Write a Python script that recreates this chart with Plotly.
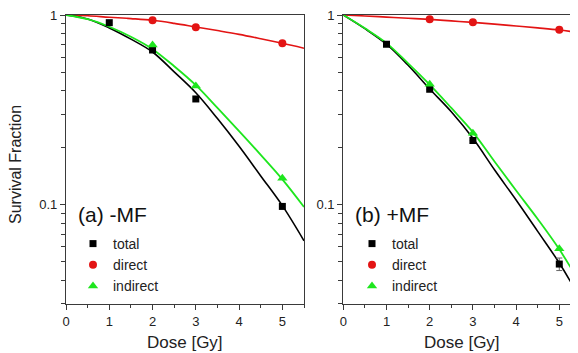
import plotly.graph_objects as go

# ---------------- data ----------------
dose_pts_total = [1, 2, 3, 5]
dose_pts = [2, 3, 5]

a_total = [0.911, 0.654, 0.361, 0.098]
a_direct = [0.938, 0.861, 0.710]
a_indirect = [0.695, 0.423, 0.138]

b_total = [0.701, 0.406, 0.218, 0.0487]
b_total_err = [0, 0, 0, 0.0037]
b_direct = [0.949, 0.915, 0.837]
b_indirect = [0.432, 0.238, 0.0587]

dose_fit = [0, 0.5, 1, 1.5, 2, 2.5, 3, 3.5, 4, 4.5, 5, 5.5]
a_total_fit = [1, 0.9528, 0.8551, 0.7464, 0.6383, 0.5012, 0.3890, 0.2844, 0.2032, 0.1419, 0.0989, 0.0646]
a_indirect_fit = [1, 0.9506, 0.8670, 0.7674, 0.6607, 0.5370, 0.4266, 0.3236, 0.2443, 0.1832, 0.1361, 0.0973]
a_direct_fit = [1, 0.9908, 0.9727, 0.9572, 0.9376, 0.9036, 0.8650, 0.8279, 0.7907, 0.7499, 0.7096, 0.6683]
b_total_fit = [1, 0.8472, 0.7015, 0.5433, 0.4074, 0.3090, 0.2239, 0.1528, 0.1059, 0.0724, 0.0493, 0.0316]
b_indirect_fit = [1, 0.8511, 0.7112, 0.5559, 0.4295, 0.3236, 0.2415, 0.1690, 0.1189, 0.0841, 0.0582, 0.0380]
b_direct_fit = [1, 0.9886, 0.9750, 0.9616, 0.9484, 0.9311, 0.9141, 0.8954, 0.8750, 0.8551, 0.8337, 0.8054]

x_ticks = [0, 1, 2, 3, 4, 5]
y_ticks = [0.1, 1]
y_tick_text = ["0.1", "1"]
y_minor = [0.03, 0.04, 0.05, 0.06, 0.07, 0.08, 0.09, 0.2, 0.3, 0.4, 0.5, 0.6, 0.7, 0.8, 0.9]
panel_labels = ["(a) -MF", "(b) +MF"]

# ---------------- style ----------------
BLACK = "#000000"
RED = "#e31414"
GREEN = "#1ee61e"
AXC = "#3a3a3a"
FONT = "Liberation Sans, Arial, sans-serif"

OFF = 8  # page body margin in the browser
SW, SH = 578, 353  # screen size
W, H = SW - OFF, SH - OFF
ML, MR, MT, MB = 66 - OFF, 0, 15 - OFF, SH - 304
PW, PH = W - ML - MR, H - MT - MB


def px_x(p):  # screen px -> paper fraction
    return (p - OFF - ML) / PW


def px_y(p):
    return (SH - MB - p) / PH


fig = go.Figure()

panels = [
    ("x", "y", "legend", a_total_fit, a_direct_fit, a_indirect_fit, a_total, None, a_direct, a_indirect),
    ("x2", "y2", "legend2", b_total_fit, b_direct_fit, b_indirect_fit, b_total, b_total_err, b_direct, b_indirect),
]

for xa, ya, lg, tf, df, inf, tp, terr, dp, ip in panels:
    fig.add_trace(go.Scatter(x=dose_fit, y=df, mode="lines", line=dict(color=RED, width=1.6, shape="spline"),
                             xaxis=xa, yaxis=ya, showlegend=False, hoverinfo="skip"))
    fig.add_trace(go.Scatter(x=dose_fit, y=tf, mode="lines", line=dict(color=BLACK, width=1.6, shape="spline"),
                             xaxis=xa, yaxis=ya, showlegend=False, hoverinfo="skip"))
    fig.add_trace(go.Scatter(x=dose_fit, y=inf, mode="lines", line=dict(color=GREEN, width=1.8, shape="spline"),
                             xaxis=xa, yaxis=ya, showlegend=False, hoverinfo="skip"))
    err = None
    if terr is not None:
        err = dict(type="data", array=terr, visible=True, color="#666666", thickness=1, width=3)
    fig.add_trace(go.Scatter(x=dose_pts_total, y=tp, mode="markers", name="total",
                             marker=dict(symbol="square", size=7, color=BLACK), error_y=err,
                             xaxis=xa, yaxis=ya, legend=lg))
    fig.add_trace(go.Scatter(x=dose_pts, y=dp, mode="markers", name="direct",
                             marker=dict(symbol="circle", size=8, color=RED),
                             xaxis=xa, yaxis=ya, legend=lg))
    fig.add_trace(go.Scatter(x=dose_pts, y=ip, mode="markers", name="indirect",
                             marker=dict(symbol="triangle-up", size=9, color=GREEN),
                             xaxis=xa, yaxis=ya, legend=lg))

xa_common = dict(
    tickvals=x_ticks, ticks="outside", ticklen=5, tickwidth=1, tickcolor=AXC,
    showline=True, linecolor=AXC, linewidth=1.3, mirror=True, showgrid=False, zeroline=False,
    minor=dict(ticks="outside", ticklen=3, tickwidth=1, tickcolor=AXC, dtick=0.5, showgrid=False),
    tickfont=dict(size=13, color="#222222", family=FONT), ticklabeloverflow="allow",
)
ya_common = dict(
    type="log", range=[-1.523, 0], tickvals=y_ticks, ticktext=y_tick_text,
    ticks="outside", ticklen=5, tickwidth=1, tickcolor=AXC,
    showline=True, linecolor=AXC, linewidth=1.3, showgrid=False, zeroline=False,
    minor=dict(ticks="outside", ticklen=4, tickwidth=1, tickcolor=AXC, tickvals=y_minor, showgrid=False),
    tickfont=dict(size=13, color="#222222", family=FONT), ticklabeloverflow="allow",
)

fig.update_layout(
    width=W, height=H,
    margin=dict(l=ML, r=MR, t=MT, b=MB, pad=0),
    paper_bgcolor="white", plot_bgcolor="white",
    font=dict(family=FONT, color="#222222"),
    xaxis=dict(**xa_common, domain=[0, px_x(304)], range=[0, 5.5], anchor="y"),
    yaxis=dict(**ya_common, mirror=True, anchor="x"),
    xaxis2=dict(**xa_common, domain=[px_x(343.3), 1], range=[0, 5.433], anchor="y2"),
    yaxis2=dict(**ya_common, mirror=False, anchor="x2"),
    legend=dict(x=px_x(73), y=px_y(228), xanchor="left", yanchor="top", bgcolor="rgba(0,0,0,0)",
                font=dict(size=14, family=FONT, color="#222222"), itemwidth=30, tracegroupgap=0),
    legend2=dict(x=px_x(352), y=px_y(228), xanchor="left", yanchor="top", bgcolor="rgba(0,0,0,0)",
                 font=dict(size=14, family=FONT, color="#222222"), itemwidth=30, tracegroupgap=0),
    showlegend=True,
)

annotations = [
    dict(text=panel_labels[0], x=px_x(76), y=px_y(215), xref="paper", yref="paper",
         xanchor="left", yanchor="middle", showarrow=False, font=dict(size=21, family=FONT, color="#111111")),
    dict(text=panel_labels[1], x=px_x(353), y=px_y(214), xref="paper", yref="paper",
         xanchor="left", yanchor="middle", showarrow=False, font=dict(size=21, family=FONT, color="#111111")),
    dict(text="Dose [Gy]", x=px_x(185), y=px_y(342), xref="paper", yref="paper",
         xanchor="center", yanchor="middle", showarrow=False, font=dict(size=17, family=FONT, color="#222222")),
    dict(text="Dose [Gy]", x=px_x(462), y=px_y(342), xref="paper", yref="paper",
         xanchor="center", yanchor="middle", showarrow=False, font=dict(size=17, family=FONT, color="#222222")),
    dict(text="Survival Fraction", x=px_x(15), y=px_y(165), xref="paper", yref="paper", textangle=-90,
         xanchor="center", yanchor="middle", showarrow=False, font=dict(size=16, family=FONT, color="#222222")),
]
fig.update_layout(annotations=annotations)

fig.write_html("out.html")
